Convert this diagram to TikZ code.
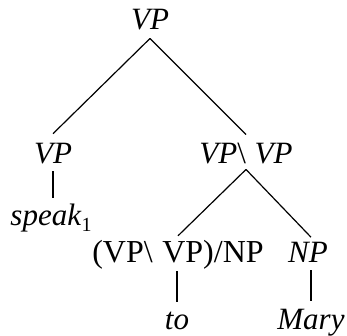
\documentclass[tikz,border=0pt]{standalone}
\usepackage{fontspec}
\setmainfont{Liberation Serif}
\begin{document}
\begin{tikzpicture}[x=1pt,y=-1pt,
  lab/.style={anchor=base,inner sep=0pt,outer sep=0pt,font=\fontsize{31}{36}\selectfont},
  edge/.style={line width=1.2pt}]
\useasboundingbox (0,0) rectangle (347,335);
\node[lab] (top) at (150,29) {\textit{VP}};
\node[lab] (vpl) at (53,163) {\textit{VP}};
\node[lab] (vpr) at (246,163) {\textit{VP}\textbackslash\hspace{0.28em}\textit{VP}};
\node[lab] (speak) at (51,225) {\textit{speak}\raisebox{-0.2em}{\fontsize{20}{24}\selectfont 1}};
\node[lab,font=\fontsize{32}{38}\selectfont] (cat) at (178,262) {(VP\textbackslash\hspace{0.3em}VP)/NP};
\node[lab] (np) at (308,262) {\textit{NP}};
\node[lab] (to) at (177,329) {\textit{to}};
\node[lab] (mary) at (311,329) {\textit{Mary}};
\draw[edge] ([yshift=-9pt]top.south) -- ([yshift=9pt]vpl.north);
\draw[edge] ([yshift=-9pt]top.south) -- ([yshift=8pt]vpr.north);
\draw[edge] ([yshift=-8pt]vpl.south) -- ([yshift=5pt]speak.north -| vpl.south);
\draw[edge] ([yshift=-6pt]vpr.south) -- ([yshift=4pt]cat.north);
\draw[edge] ([yshift=-6pt]vpr.south) -- ([yshift=4.5pt,xshift=3pt]np.north);
\draw[edge] ([yshift=-2.5pt]cat.south -| to.north) -- ([yshift=10pt]to.north);
\draw[edge] ([yshift=-8pt]np.south -| mary.north) -- ([yshift=7.5pt]mary.north);
\end{tikzpicture}
\end{document}
